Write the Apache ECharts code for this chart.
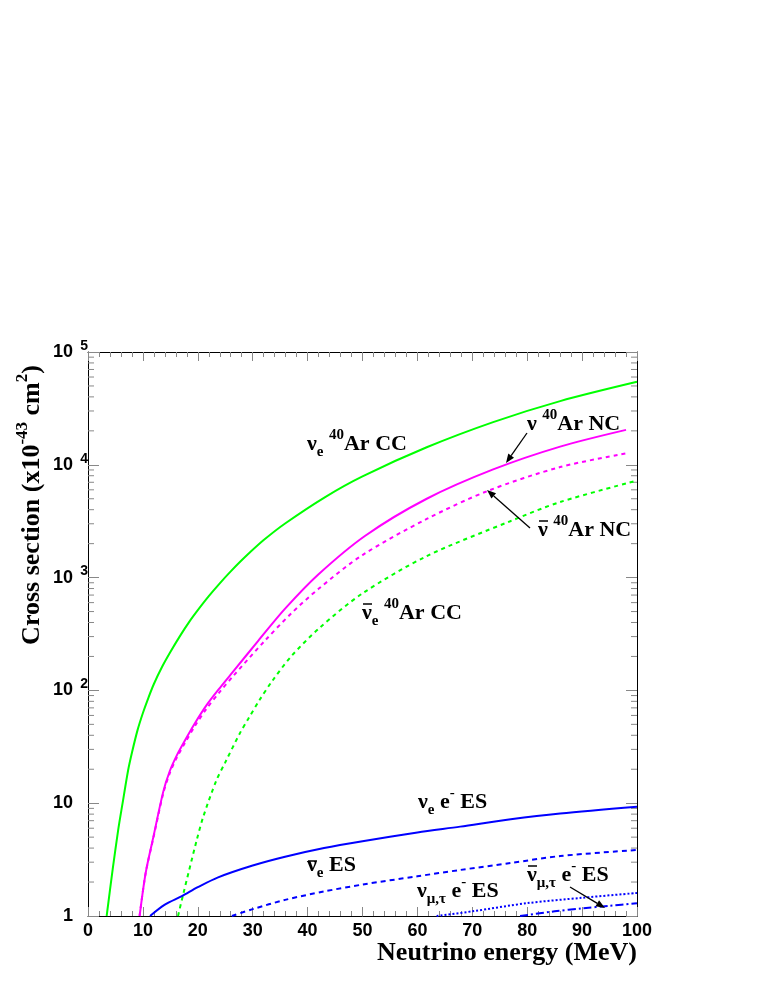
<!DOCTYPE html>
<html>
<head>
<meta charset="utf-8">
<script src="https://cdn.jsdelivr.net/npm/echarts@6/dist/echarts.min.js"></script>
<style>
  html, body { margin: 0; padding: 0; background: #fff; }
  #chart { width: 763px; height: 987px; }
</style>
</head>
<body>
<div id="chart"></div>
<script>
// energies (MeV) and cross sections (x10^-43 cm^2)
const ccNueE = [3.4, 4.5, 5.5, 6.3, 7.3, 8, 9, 10, 11, 12, 13.5, 15, 16.8, 18.5, 20, 22, 24, 26, 28.6, 32, 35.9, 43.2, 50, 61.7, 73.8, 86, 100]
const ccNueV = [1, 2.6, 5.8, 10, 19.5, 28, 44, 63, 86, 114, 162, 219, 306, 409, 514, 684, 889, 1135, 1520, 2150, 3020, 5180, 7900, 14300, 23900, 36700, 54400]

const ncNuE = [9.4, 10.5, 11.9, 13.7, 14.9, 16.2, 17.7, 19.5, 21.6, 24, 26.5, 31, 35.9, 41.9, 50.5, 61.7, 73.8, 86, 98]
const ncNuV = [1, 2.4, 5, 12.6, 19.3, 26.7, 36.3, 51.4, 74, 105, 148, 275, 530, 1060, 2350, 5000, 9100, 14500, 20400]

const ncNubarE = [9.4, 10.5, 11.9, 13.7, 14.9, 16.2, 17.7, 19.5, 21.6, 24, 26.5, 32.2, 37, 42, 50, 61.7, 72.9, 86, 98]
const ncNubarV = [1, 2.4, 4.9, 12.2, 18.5, 25.5, 34.5, 48.5, 69, 97, 135, 275, 480, 795, 1585, 3310, 5890, 9550, 12600]

const ccNuebarE = [16.4, 17.4, 19.8, 21, 23.4, 25, 27.7, 29.2, 31.3, 33.5, 37, 42.3, 50, 61.7, 76.9, 86, 100]
const ccNuebarV = [1, 1.6, 4.7, 7.6, 16, 23, 42, 56, 83, 120, 200, 363, 724, 1550, 3160, 4680, 7240]

const esNueE = [11.3, 14, 17.1, 20, 23.7, 30, 35.9, 43, 50, 60, 67.8, 77, 86, 100]
const esNueV = [1, 1.26, 1.5, 1.8, 2.2, 2.8, 3.35, 4.0, 4.6, 5.5, 6.2, 7.2, 8.1, 9.3]

const esNuebarE = [26.2, 30, 35.9, 43, 50, 60, 67.8, 77, 86, 100]
const esNuebarV = [1, 1.15, 1.39, 1.65, 1.9, 2.25, 2.56, 2.95, 3.4, 3.85]

const esNumuE = [63.5, 70, 80, 90, 100]
const esNumuV = [1, 1.1, 1.3, 1.45, 1.6]

const esNumubarE = [78.7, 85, 90, 95, 100]
const esNumubarV = [1, 1.1, 1.17, 1.23, 1.3]

// minor ticks of the log axis (2..9 in each decade)
const yMinorTicks = [2, 3, 4, 5, 6, 7, 8, 9, 20, 30, 40, 50, 60, 70, 80, 90,
  200, 300, 400, 500, 600, 700, 800, 900, 2000, 3000, 4000, 5000, 6000, 7000, 8000, 9000,
  20000, 30000, 40000, 50000, 60000, 70000, 80000, 90000]

const pairs = (xs, ys) => xs.map((x, i) => [x, ys[i]])

const serif = 'Liberation Serif'
const sans = 'Liberation Sans'

const richLabel = {
  m: { fontFamily: serif, fontWeight: 'bold', fontSize: 22, lineHeight: 32, color: '#000' },
  sup: { fontFamily: serif, fontWeight: 'bold', fontSize: 15, lineHeight: 15, verticalAlign: 'top', color: '#000' },
  sub: { fontFamily: serif, fontWeight: 'bold', fontSize: 15, lineHeight: 15, verticalAlign: 'bottom', color: '#000' }
}

function label(text, x, y, bar) {
  const items = [{
    type: 'text', left: x, top: y - 16, z: 10,
    style: { text: text, rich: richLabel, fill: '#000' }
  }]
  // bar over the nu (anti-neutrino)
  if (bar) items.push({ type: 'line', z: 10, shape: { x1: x + 1, y1: y - 9, x2: x + 10, y2: y - 9 }, style: { stroke: '#000', lineWidth: 1.5 } })
  return items
}

function arrow(x1, y1, x2, y2) {
  const a = Math.atan2(y2 - y1, x2 - x1)
  const len = 9, w = 3.5
  const bx = x2 - len * Math.cos(a), by = y2 - len * Math.sin(a)
  return [
    { type: 'line', z: 10, shape: { x1: x1, y1: y1, x2: bx, y2: by }, style: { stroke: '#000', lineWidth: 1.3 } },
    { type: 'polygon', z: 10, shape: { points: [[x2, y2],
      [bx + w * Math.sin(a), by - w * Math.cos(a)],
      [bx - w * Math.sin(a), by + w * Math.cos(a)]] }, style: { fill: '#000' } }
  ]
}

const frame = { show: true, onZero: false, lineStyle: { color: '#000', width: 1 } }
const xTick = { show: true, inside: true, length: 9, lineStyle: { color: '#888' } }
const xMinor = { show: true, splitNumber: 5, length: 5, lineStyle: { color: '#888' } }
const yTick = { show: true, inside: true, length: 11, lineStyle: { color: '#888' } }

function curve(data, color, type) {
  return {
    type: 'line', data: data, showSymbol: false, smooth: 0.3,
    lineStyle: { color: color, width: 2, type: type }, z: 3
  }
}

const option = {
  animation: false,
  grid: { left: 88, right: 126, top: 352, bottom: 71 },
  xAxis: [
    {
      type: 'value', min: 0, max: 100, interval: 10, position: 'bottom',
      axisLine: frame, axisTick: xTick, minorTick: xMinor, splitLine: { show: false },
      axisLabel: { margin: 6, color: '#000', fontFamily: sans, fontWeight: 'bold', fontSize: 18 }
    },
    {
      type: 'value', min: 0, max: 100, interval: 10, position: 'top',
      axisLine: frame, axisTick: xTick, minorTick: xMinor, splitLine: { show: false },
      axisLabel: { show: false }
    }
  ],
  yAxis: [
    {
      type: 'log', logBase: 10, min: 1, max: 100000, position: 'left',
      axisLine: frame, axisTick: yTick, splitLine: { show: false },
      axisLabel: {
        margin: 0, align: 'right',
        formatter: function (v) {
          if (v < 100) return '{n|' + v + '}{g|}'
          return '{n|10}{s|' + Math.round(Math.log10(v)) + '}'
        },
        rich: {
          n: { fontFamily: sans, fontWeight: 'bold', fontSize: 18, lineHeight: 26, color: '#000' },
          g: { width: 15 },
          s: { fontFamily: sans, fontWeight: 'bold', fontSize: 14, lineHeight: 14, verticalAlign: 'top', width: 15, align: 'right', color: '#000' }
        }
      }
    },
    {
      type: 'log', logBase: 10, min: 1, max: 100000, position: 'right',
      axisLine: frame, axisTick: yTick, splitLine: { show: false },
      axisLabel: { show: false }
    }
  ],
  series: [
    curve(pairs(ccNueE, ccNueV), '#00ff00', 'solid'),
    curve(pairs(ccNuebarE, ccNuebarV), '#00ff00', [4, 4]),
    curve(pairs(ncNuE, ncNuV), '#ff00ff', 'solid'),
    curve(pairs(ncNubarE, ncNubarV), '#ff00ff', [4, 4]),
    curve(pairs(esNueE, esNueV), '#0000ff', 'solid'),
    curve(pairs(esNuebarE, esNuebarV), '#0000ff', [5, 4]),
    curve(pairs(esNumuE, esNumuV), '#0000ff', [2, 2]),
    curve(pairs(esNumubarE, esNumubarV), '#0000ff', [8, 3, 2, 3]),
    {
      type: 'custom', silent: true, z: 2,
      data: yMinorTicks.map(v => [0, v]),
      renderItem: function (params, api) {
        const l = api.coord([0, api.value(1)])
        const r = api.coord([100, api.value(1)])
        const st = { stroke: '#888', lineWidth: 1 }
        return {
          type: 'group', children: [
            { type: 'line', shape: { x1: l[0], y1: l[1], x2: l[0] + 6, y2: l[1] }, style: st },
            { type: 'line', shape: { x1: r[0], y1: r[1], x2: r[0] - 6, y2: r[1] }, style: st }
          ]
        }
      }
    }
  ],
  graphic: [
    ...label('{m|ν}{sub|e}{m| }{sup|40}{m|Ar CC}', 307, 444),
    ...label('{m|ν }{sup|40}{m|Ar NC}', 527, 424),
    ...label('{m|ν }{sup|40}{m|Ar NC}', 538, 530, true),
    ...label('{m|ν}{sub|e}{m| }{sup|40}{m|Ar CC}', 362, 613, true),
    ...label('{m|ν}{sub|e}{m| e}{sup|-}{m| ES}', 418, 802),
    ...label('{m|ν}{sub|e}{m| ES}', 307, 870, true),
    ...label('{m|ν}{sub|μ,τ}{m| e}{sup|-}{m| ES}', 417, 891),
    ...label('{m|ν}{sub|μ,τ}{m| e}{sup|-}{m| ES}', 527, 875, true),
    ...arrow(527, 433, 506, 463),
    ...arrow(530, 528, 487, 490),
    ...arrow(570, 887, 605, 908),
    {
      type: 'text', right: 126, top: 940,
      style: { text: 'Neutrino energy (MeV)', fontFamily: serif, fontWeight: 'bold', fontSize: 26, fill: '#000' }
    },
    {
      type: 'text', x: 32, y: 505, rotation: Math.PI / 2,
      style: {
        text: '{t|Cross section (x10}{s|-43}{t| cm}{s|2}{t|)}',
        align: 'center', verticalAlign: 'middle',
        rich: {
          t: { fontFamily: serif, fontWeight: 'bold', fontSize: 26, lineHeight: 36, color: '#000' },
          s: { fontFamily: serif, fontWeight: 'bold', fontSize: 17, lineHeight: 17, verticalAlign: 'top', color: '#000' }
        }
      }
    }
  ]
}

const myChart = echarts.init(document.getElementById('chart'))
myChart.setOption(option)
</script>
</body>
</html>
